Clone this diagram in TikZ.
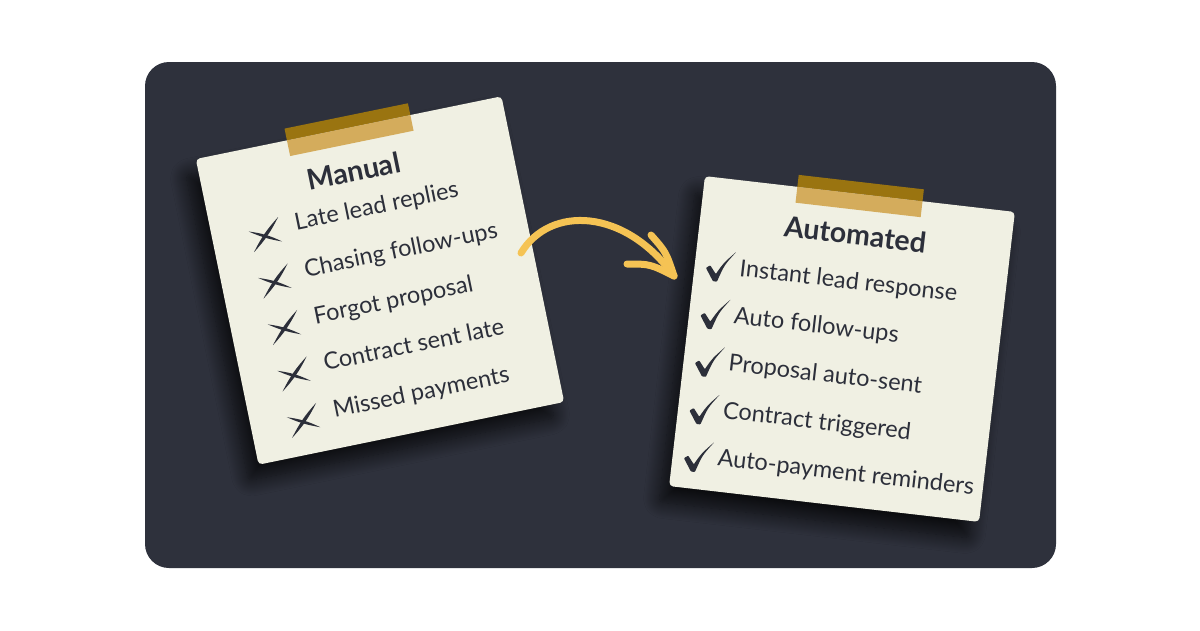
\documentclass[tikz,border=0pt]{standalone}
\usepackage{fontspec}
\setmainfont{Lato}
\usetikzlibrary{shadows.blur}
\definecolor{panel}{HTML}{2E313C}
\definecolor{cream}{HTML}{F0F0E3}
\definecolor{ink}{HTML}{2C2F3A}
\definecolor{tapedark}{HTML}{9A7410}
\definecolor{tapelight}{HTML}{D4AC5C}
\definecolor{arrowyellow}{HTML}{F5C354}
\begin{document}
\begin{tikzpicture}[x=1pt,y=-1pt,
  note/.style={fill=cream, minimum width=312pt, minimum height=312pt, inner sep=0pt, rounded corners=4pt,
    blur shadow={shadow xshift=-10pt, shadow yshift=-16pt, shadow blur radius=16pt, shadow opacity=75, shadow blur steps=16}},
  heading/.style={anchor=base, text=ink, font=\bfseries\fontsize{28.5}{31}\selectfont, inner sep=0pt},
  item/.style={anchor=base west, text=ink, font=\fontsize{23.5}{26}\selectfont, inner sep=0pt},
  tapeA/.style={fill=tapedark},
  tapeB/.style={fill=tapelight},
  arrowline/.style={draw=arrowyellow, line width=7pt, line cap=round, line join=round},
  xmark/.pic={
    \fill[ink] (-13.7,13.9) to[bend left=8] (16.9,-15.6) to[bend left=8] (-13.7,13.9);
    \fill[ink] (-14.8,-7.4) to[bend left=9] (16,9.1) to[bend left=7] (-14.8,-7.4);
  },
  vmark/.pic={
    \fill[ink, rounded corners=0.8pt] (-15,3) -- (-11,0) -- (-4.5,8) .. controls (2,-4) .. (13.5,-16.5)
      .. controls (3,-2) .. (-2.5,15.5) -- (-6.5,15.5) -- cycle;
  }
]
\useasboundingbox (0,0) rectangle (1200,630);
\fill[white] (0,0) rectangle (1200,630);
\fill[panel, rounded corners=24pt] (145,62) rectangle (1056,568);

% Manual note
\begin{scope}[shift={(380,280.5)}, rotate=11.6, transform shape]
  \node[note] (manual) at (0,0) {};
  \fill[tapeA] (-63,-168) rectangle (63,-156);
  \fill[tapeB] (-63,-156) rectangle (63,-140);
  \node[heading] (mhead) at (-4,-102) {Manual};
  \foreach \t [count=\i from 0] in {Late lead replies, Chasing follow-ups, Forgot proposal, Contract sent late, Missed payments}{
    \node[item] (m\i) at (-72,-66+47.85*\i) {\t};
    \pic at (-104,-67+47.4*\i) {xmark};
  }
\end{scope}

% Automated note
\begin{scope}[shift={(842,349)}, rotate=-6.6, transform shape]
  \node[note] (auto) at (0,0) {};
  \fill[tapeA] (-63,-168) rectangle (63,-156);
  \fill[tapeB] (-63,-156) rectangle (63,-140);
  \node[heading] (ahead) at (0,-105) {Automated};
  \foreach \t [count=\i from 0] in {Instant lead response, Auto follow-ups, Proposal auto-sent, Contract triggered, Auto-payment reminders}{
    \node[item] (a\i) at (-111,-60.6+47.65*\i) {\t};
    \pic at (-129.5,-68+47.9*\i) {vmark};
  }
\end{scope}

% Arrow
\coordinate (arrS) at (521,253);
\coordinate (arrE) at (674,276);
\coordinate (barbA) at (651,235);
\coordinate (barbB) at (627,264);
\draw[arrowline] (arrS) .. controls (550,205) and (625,208) .. (arrE);
\draw[arrowline] (arrE) .. controls (666,252) .. (barbA);
\draw[arrowline] (arrE) .. controls (650,264) .. (barbB);
\end{tikzpicture}
\end{document}
